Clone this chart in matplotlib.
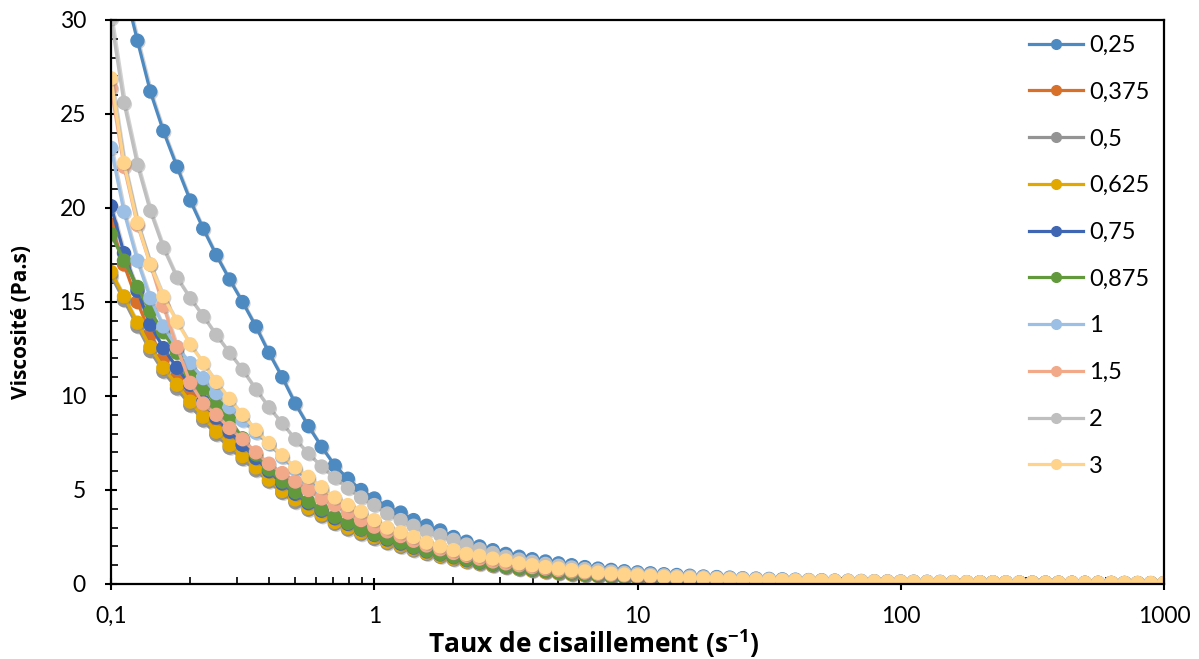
import matplotlib
matplotlib.use("Agg")
import matplotlib.pyplot as plt
from matplotlib.lines import Line2D
import matplotlib.patheffects as pe

plt.rcParams['font.family'] = ['Lato', 'DejaVu Sans']
plt.rcParams['mathtext.fontset'] = 'custom'
plt.rcParams['mathtext.rm'] = 'Open Sans'
plt.rcParams['mathtext.bf'] = 'Open Sans:bold'

# Shear rate (s-1)
shear = [0.1, 0.112, 0.126, 0.141, 0.158, 0.178, 0.2, 0.224, 0.251, 0.282,
         0.316, 0.355, 0.398, 0.447, 0.501, 0.562, 0.631, 0.708, 0.794, 0.891,
         1, 1.12, 1.26, 1.41, 1.58, 1.78, 2, 2.24, 2.51, 2.82,
         3.16, 3.55, 3.98, 4.47, 5.01, 5.62, 6.31, 7.08, 7.94, 8.91,
         10, 11.2, 12.6, 14.1, 15.8, 17.8, 20, 22.4, 25.1, 28.2,
         31.6, 35.5, 39.8, 44.7, 50.1, 56.2, 63.1, 70.8, 79.4, 89.1,
         100, 112, 126, 141, 158, 178, 200, 224, 251, 282,
         316, 355, 398, 447, 501, 562, 631, 708, 794, 891, 1000]

v_025 = [35.0, 31.8, 28.9, 26.2, 24.1, 22.2, 20.4, 18.9, 17.5, 16.2,
         15.0, 13.7, 12.3, 11.0, 9.6, 8.4, 7.3, 6.3, 5.6, 5.0,
         4.55, 4.1, 3.8, 3.4, 3.1, 2.85, 2.5, 2.25, 2.0, 1.8,
         1.6, 1.45, 1.32, 1.2, 1.1, 1.0, 0.9, 0.82, 0.75, 0.68,
         0.62, 0.57, 0.52, 0.48, 0.44, 0.40, 0.37, 0.34, 0.31, 0.29,
         0.27, 0.25, 0.23, 0.21, 0.20, 0.18, 0.17, 0.16, 0.15, 0.14,
         0.13, 0.12, 0.115, 0.11, 0.10, 0.095, 0.09, 0.085, 0.08, 0.075,
         0.07, 0.067, 0.064, 0.061, 0.058, 0.055, 0.052, 0.05, 0.048, 0.046, 0.044]

v_0375 = [19.1, 17.0, 15.0, 13.3, 12.0, 11.0, 10.1, 9.3, 8.5, 7.8,
          7.1, 6.4, 5.8, 5.2, 4.7, 4.2, 3.85, 3.45, 3.15, 2.85,
          2.58, 2.33, 2.12, 1.92, 1.72, 1.56, 1.41, 1.26, 1.15, 1.04,
          0.94, 0.84, 0.76, 0.69, 0.62, 0.56, 0.5, 0.46, 0.42, 0.38,
          0.35, 0.32, 0.30, 0.28, 0.26, 0.24, 0.22, 0.21, 0.20, 0.19,
          0.18, 0.17, 0.16, 0.15, 0.14, 0.135, 0.13, 0.12, 0.115, 0.11,
          0.105, 0.1, 0.095, 0.09, 0.086, 0.082, 0.078, 0.074, 0.07, 0.067,
          0.064, 0.061, 0.058, 0.055, 0.053, 0.051, 0.049, 0.047, 0.045, 0.043, 0.041]

v_05 = [16.4, 15.1, 13.7, 12.4, 11.3, 10.4, 9.5, 8.7, 7.95, 7.25,
        6.65, 6.05, 5.45, 4.85, 4.35, 3.95, 3.6, 3.2, 2.9, 2.65,
        2.4, 2.17, 1.97, 1.78, 1.6, 1.45, 1.3, 1.17, 1.06, 0.96,
        0.87, 0.78, 0.7, 0.63, 0.57, 0.51, 0.46, 0.42, 0.38, 0.35,
        0.32, 0.29, 0.27, 0.25, 0.23, 0.22, 0.2, 0.19, 0.18, 0.17,
        0.16, 0.15, 0.145, 0.14, 0.13, 0.125, 0.12, 0.11, 0.105, 0.1,
        0.096, 0.092, 0.088, 0.084, 0.08, 0.076, 0.072, 0.069, 0.066, 0.063,
        0.06, 0.057, 0.054, 0.052, 0.05, 0.048, 0.046, 0.044, 0.042, 0.04, 0.038]

v_0625 = [16.6, 15.3, 13.9, 12.6, 11.5, 10.6, 9.7, 8.9, 8.1, 7.4,
          6.8, 6.2, 5.55, 4.95, 4.5, 4.05, 3.7, 3.3, 3.0, 2.75,
          2.5, 2.25, 2.05, 1.85, 1.65, 1.5, 1.35, 1.2, 1.1, 1.0,
          0.9, 0.8, 0.72, 0.65, 0.58, 0.52, 0.47, 0.43, 0.39, 0.36,
          0.33, 0.3, 0.28, 0.26, 0.24, 0.225, 0.21, 0.195, 0.185, 0.175,
          0.165, 0.155, 0.148, 0.14, 0.133, 0.127, 0.12, 0.114, 0.108, 0.103,
          0.098, 0.094, 0.09, 0.086, 0.082, 0.078, 0.074, 0.071, 0.068, 0.065,
          0.062, 0.059, 0.056, 0.054, 0.052, 0.05, 0.048, 0.046, 0.044, 0.042, 0.04]

v_075 = [20.1, 17.6, 15.6, 13.8, 12.55, 11.5, 10.6, 9.7, 8.85, 8.1,
         7.4, 6.7, 6.0, 5.35, 4.8, 4.3, 3.9, 3.5, 3.2, 2.9,
         2.62, 2.37, 2.15, 1.94, 1.74, 1.58, 1.43, 1.28, 1.14, 1.04,
         0.93, 0.84, 0.76, 0.69, 0.62, 0.56, 0.51, 0.46, 0.42, 0.39,
         0.36, 0.33, 0.3, 0.28, 0.26, 0.24, 0.225, 0.21, 0.2, 0.19,
         0.18, 0.17, 0.16, 0.15, 0.143, 0.136, 0.13, 0.123, 0.117, 0.111,
         0.106, 0.101, 0.096, 0.092, 0.088, 0.084, 0.08, 0.076, 0.072, 0.069,
         0.066, 0.063, 0.06, 0.057, 0.055, 0.053, 0.051, 0.049, 0.047, 0.045, 0.043]

v_0875 = [18.6, 17.2, 15.8, 14.5, 13.4, 12.3, 11.3, 10.4, 9.6, 8.75,
          7.75, 6.9, 6.1, 5.45, 4.9, 4.38, 3.97, 3.57, 3.25, 2.92,
          2.65, 2.42, 2.2, 1.97, 1.77, 1.6, 1.45, 1.3, 1.16, 1.05,
          0.94, 0.85, 0.77, 0.7, 0.63, 0.57, 0.52, 0.47, 0.43, 0.4,
          0.37, 0.34, 0.31, 0.29, 0.27, 0.25, 0.23, 0.215, 0.205, 0.195,
          0.185, 0.175, 0.165, 0.155, 0.147, 0.14, 0.133, 0.126, 0.12, 0.114,
          0.108, 0.103, 0.098, 0.094, 0.09, 0.086, 0.082, 0.078, 0.074, 0.071,
          0.068, 0.065, 0.062, 0.059, 0.057, 0.055, 0.052, 0.05, 0.048, 0.046, 0.044]

v_1 = [23.2, 19.8, 17.2, 15.2, 13.7, 12.6, 11.75, 10.95, 10.15, 9.4,
       8.7, 8.05, 7.45, 6.75, 6.1, 5.55, 5.0, 4.5, 4.1, 3.7,
       3.3, 2.95, 2.65, 2.4, 2.15, 1.95, 1.75, 1.57, 1.42, 1.29,
       1.16, 1.05, 0.95, 0.86, 0.78, 0.71, 0.64, 0.58, 0.53, 0.48,
       0.44, 0.4, 0.37, 0.34, 0.31, 0.29, 0.27, 0.25, 0.23, 0.215,
       0.2, 0.19, 0.18, 0.17, 0.16, 0.15, 0.142, 0.135, 0.128, 0.121,
       0.115, 0.109, 0.104, 0.099, 0.094, 0.09, 0.086, 0.082, 0.078, 0.074,
       0.071, 0.068, 0.065, 0.062, 0.059, 0.056, 0.054, 0.052, 0.05, 0.048, 0.046]

v_15 = [26.4, 22.2, 19.1, 17.0, 14.8, 12.6, 10.7, 9.6, 9.0, 8.3,
        7.7, 7.0, 6.4, 5.9, 5.45, 5.0, 4.55, 4.2, 3.8, 3.4,
        3.05, 2.8, 2.55, 2.3, 2.05, 1.85, 1.65, 1.5, 1.35, 1.2,
        1.1, 1.0, 0.9, 0.82, 0.74, 0.67, 0.61, 0.55, 0.5, 0.46,
        0.42, 0.38, 0.35, 0.32, 0.3, 0.28, 0.26, 0.24, 0.22, 0.205,
        0.195, 0.185, 0.175, 0.165, 0.155, 0.147, 0.139, 0.132, 0.125, 0.119,
        0.113, 0.107, 0.102, 0.097, 0.092, 0.088, 0.084, 0.08, 0.076, 0.073,
        0.07, 0.067, 0.064, 0.061, 0.058, 0.056, 0.053, 0.051, 0.049, 0.047, 0.045]

v_2 = [30.1, 25.6, 22.3, 19.85, 17.9, 16.3, 15.2, 14.25, 13.25, 12.3,
       11.4, 10.35, 9.4, 8.55, 7.7, 6.95, 6.25, 5.65, 5.1, 4.6,
       4.2, 3.75, 3.4, 3.1, 2.8, 2.6, 2.35, 2.1, 1.85, 1.65,
       1.45, 1.3, 1.18, 1.07, 0.97, 0.88, 0.8, 0.73, 0.66, 0.6,
       0.55, 0.5, 0.46, 0.42, 0.39, 0.36, 0.33, 0.31, 0.29, 0.27,
       0.25, 0.23, 0.215, 0.2, 0.19, 0.18, 0.17, 0.16, 0.15, 0.14,
       0.133, 0.126, 0.12, 0.114, 0.108, 0.102, 0.097, 0.092, 0.088, 0.084,
       0.08, 0.076, 0.072, 0.069, 0.066, 0.063, 0.06, 0.057, 0.055, 0.053, 0.051]

v_3 = [26.9, 22.4, 19.2, 17.0, 15.3, 13.95, 12.75, 11.75, 10.75, 9.85,
       9.0, 8.2, 7.5, 6.85, 6.2, 5.7, 5.15, 4.6, 4.2, 3.85,
       3.4, 3.0, 2.75, 2.5, 2.2, 2.0, 1.8, 1.6, 1.5, 1.35,
       1.25, 1.1, 1.0, 0.9, 0.82, 0.74, 0.67, 0.6, 0.55, 0.5,
       0.46, 0.42, 0.38, 0.35, 0.32, 0.3, 0.28, 0.26, 0.24, 0.225,
       0.21, 0.2, 0.19, 0.18, 0.17, 0.16, 0.15, 0.142, 0.135, 0.128,
       0.121, 0.115, 0.109, 0.104, 0.099, 0.094, 0.09, 0.086, 0.082, 0.078,
       0.075, 0.072, 0.069, 0.066, 0.063, 0.06, 0.058, 0.056, 0.054, 0.052, 0.05]

labels = ['0,25', '0,375', '0,5', '0,625', '0,75', '0,875', '1', '1,5', '2', '3']
series = [v_025, v_0375, v_05, v_0625, v_075, v_0875, v_1, v_15, v_2, v_3]
colors = ['#4E8AC2', '#D9702A', '#949494', '#E2A800', '#3E66B2',
          '#63993D', '#9CBFE5', '#F1A98A', '#BFBFBF', '#FFD38A']

xticks = [0.1, 1, 10, 100, 1000]
xticklabels = ['0,1', '1', '10', '100', '1000']
yticks = [0, 5, 10, 15, 20, 25, 30]

fig = plt.figure(figsize=(11.99, 6.59), dpi=100)
ax = fig.add_axes([111 / 1199, 1 - 584 / 659, (1164 - 111) / 1199, (584 - 20) / 659])

line_shadow = [pe.SimpleLineShadow(offset=(1.2, -1.2), shadow_color='#808080', alpha=0.35), pe.Normal()]
mk_shadow = [pe.SimplePatchShadow(offset=(1.2, -1.2), shadow_rgbFace='#808080', alpha=0.35), pe.Normal()]

for vals, col in zip(series, colors):
    ax.plot(shear, vals, color=col, lw=2.3, solid_capstyle='round',
            path_effects=line_shadow, clip_on=True)
    ax.plot(shear, vals, linestyle='none', marker='o', ms=9.3, color=col,
            mec=col, path_effects=mk_shadow, clip_on=True)

ax.set_xscale('log')
ax.set_xlim(0.1, 1000)
ax.set_ylim(0, 30)
ax.set_xticks(xticks)
ax.set_xticklabels(xticklabels)
ax.set_yticks(yticks)
ax.set_yticks(range(0, 31), minor=True)
ax.tick_params(axis='both', which='major', direction='inout', length=8, width=1.5,
               labelsize=16.5, colors='black')
ax.tick_params(axis='x', which='major', pad=11.5)
ax.tick_params(axis='y', which='major', pad=14)
ax.tick_params(axis='both', which='minor', direction='in', length=5, width=1.2)
for sp in ax.spines.values():
    sp.set_linewidth(1.6)
    sp.set_color('black')

label_font = ['Open Sans', 'DejaVu Sans']
ax.set_xlabel(r'Taux de cisaillement (s$^{\mathbf{-1}}$)', fontsize=19,
              fontweight='bold', family=label_font, va='center')
ax.xaxis.set_label_coords((594 - 111) / 1053, (584 - 644) / 564)
ax.set_ylabel('Viscosité (Pa.s)', fontsize=15, fontweight='bold',
              family=label_font, va='center')
ax.yaxis.set_label_coords((22 - 111) / 1053, (584 - 322) / 564)

handles = [Line2D([0], [0], color=c, lw=2.3, marker='o', ms=7, mec=c)
           for c in colors]
ax.legend(handles, labels, loc='upper left',
          bbox_to_anchor=(1029 / 1199, 1 - 35 / 659), bbox_transform=fig.transFigure,
          frameon=False, fontsize=17, handlelength=2.3, handletextpad=0.25,
          labelspacing=1.09, borderpad=0, borderaxespad=0)

fig.savefig('out.png', dpi=100)
